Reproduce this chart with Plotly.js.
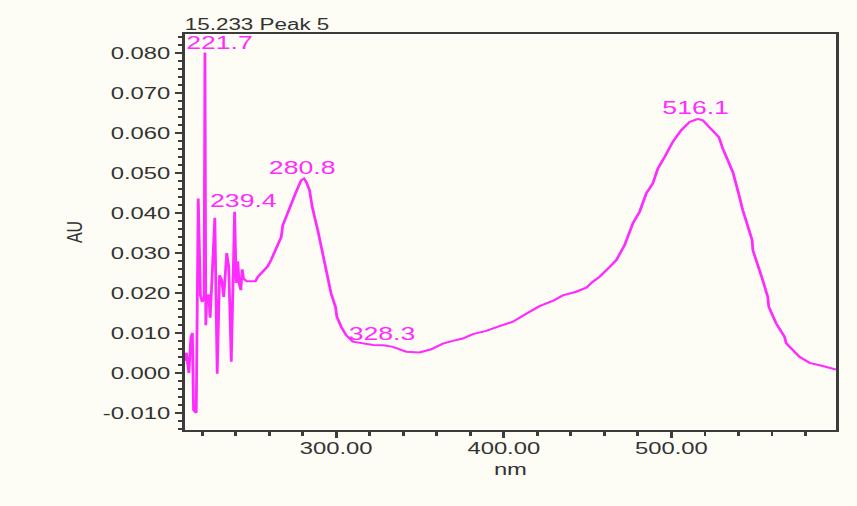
<!DOCTYPE html>
<html>
<head>
<meta charset="utf-8">
<script src="https://cdn.plot.ly/plotly-3.0.1.min.js"></script>
<style>
html,body{margin:0;padding:0;background:#fdfdf5;overflow:hidden;width:857px;height:506px}
/* the spectrum is laid out on a narrower canvas and widened horizontally */
#chart{width:612px;height:506px;transform:scaleX(1.40033);transform-origin:0 0}
</style>
</head>
<body>
<div id="chart"></div>
<script>
// UV-Vis spectrum of peak 5 (retention 15.233 min)
const wavelengthNm = [
  209.8, 210.6, 212.1, 213.3, 214.2, 214.9, 216.5, 217.7, 219.0, 220.0,
  221.2, 221.7, 222.2, 222.8, 224.0, 224.8, 227.6, 229.0, 230.4, 231.7,
  232.9, 234.7, 235.9, 237.4, 239.4, 240.3, 241.3, 242.1, 243.1, 243.9,
  244.7, 246.7, 251.8, 253.2, 259.2, 261.2, 267.2, 268.1, 276.1, 279.1,
  280.8, 282.1, 284.1, 285.7, 289.0, 291.6, 293.0, 296.0, 297.0, 299.6,
  300.4, 303.0, 306.0, 309.9, 317.9, 322.0, 328.3, 333.8, 341.8, 349.7,
  356.7, 363.6, 369.6, 375.5, 381.5, 389.5, 397.4, 405.4, 413.4, 421.3,
  429.2, 435.2, 443.2, 449.2, 453.1, 457.1, 463.1, 467.1, 472.0, 477.0,
  481.0, 485.0, 488.9, 491.9, 495.9, 500.8, 505.8, 510.8, 514.8, 516.1,
  518.7, 522.7, 528.3, 530.7, 536.6, 539.6, 542.6, 548.2, 548.6, 554.5,
  557.5, 558.1, 562.5, 567.5, 568.5, 576.4, 582.4, 590.3, 597.3, 598.2
];
const absorbanceAU = [
  0.0030, 0.0050, 0.0000, 0.0089, 0.0100, -0.0093, -0.0100, 0.0436, 0.0194, 0.0178,
  0.0185, 0.0802, 0.0119, 0.0194, 0.0194, 0.0138, 0.0388, -0.0002, 0.0244, 0.0232,
  0.0190, 0.0300, 0.0265, 0.0028, 0.0403, 0.0225, 0.0279, 0.0224, 0.0207, 0.0259,
  0.0236, 0.0229, 0.0229, 0.0240, 0.0267, 0.0283, 0.0340, 0.0369, 0.0453, 0.0482,
  0.0486, 0.0478, 0.0457, 0.0415, 0.0357, 0.0307, 0.0274, 0.0224, 0.0198, 0.0165,
  0.0140, 0.0115, 0.0094, 0.0078, 0.0072, 0.0070, 0.0069, 0.0065, 0.0053, 0.0051,
  0.0059, 0.0073, 0.0080, 0.0086, 0.0097, 0.0105, 0.0117, 0.0128, 0.0148, 0.0167,
  0.0180, 0.0194, 0.0203, 0.0213, 0.0228, 0.0240, 0.0265, 0.0282, 0.0319, 0.0374,
  0.0403, 0.0449, 0.0474, 0.0511, 0.0540, 0.0578, 0.0607, 0.0628, 0.0634, 0.0635,
  0.0632, 0.0615, 0.0590, 0.0561, 0.0503, 0.0457, 0.0407, 0.0332, 0.0307, 0.0232,
  0.0190, 0.0165, 0.0124, 0.0090, 0.0074, 0.0040, 0.0025, 0.0017, 0.0009, 0.0008
];

// labelled maxima / shoulders (nm)
const peakNm = [221.7, 239.4, 280.8, 328.3, 516.1];

const xTickVals = [300, 400, 500];
const xTickText = ['300.00', '400.00', '500.00'];
const yTickVals = [-0.01, 0, 0.01, 0.02, 0.03, 0.04, 0.05, 0.06, 0.07, 0.08];
const yTickText = ['-0.010', '0.000', '0.010', '0.020', '0.030', '0.040', '0.050', '0.060', '0.070', '0.080'];

const chartTitle = '15.233 Peak 5';
const xTitle = 'nm';
const yTitle = 'AU';

// nudges for the peak labels, in px
const labelShiftX = [11, 6, -1, -1, -2];
const labelShiftY = [-3, -1, -1, -1, -1];

const MAGENTA = '#ff2cff';
const INK = '#333333';
const FRAME = '#3c3c3c';
const BG = '#fdfdf5';
const FONT = 'Liberation Sans, Arial, sans-serif';

const annotations = peakNm.map((nm, i) => ({
  x: nm,
  y: absorbanceAU[wavelengthNm.indexOf(nm)],
  xref: 'x', yref: 'y',
  text: nm.toFixed(1),
  showarrow: false,
  xanchor: 'center', yanchor: 'bottom',
  xshift: labelShiftX[i],
  yshift: labelShiftY[i],
  font: {family: FONT, size: 19, color: MAGENTA}
}));

const trace = {
  x: wavelengthNm,
  y: absorbanceAU,
  type: 'scatter',
  mode: 'lines',
  line: {color: MAGENTA, width: 2},
  hoverinfo: 'skip'
};

const layout = {
  width: 612,
  height: 506,
  margin: {l: 132.3, r: 14.6, t: 33.5, b: 76},
  paper_bgcolor: BG,
  plot_bgcolor: BG,
  showlegend: false,
  font: {family: FONT, color: INK},
  title: {
    text: chartTitle,
    x: 0, xref: 'paper', xanchor: 'left',
    y: 1, yref: 'paper', yanchor: 'bottom',
    pad: {b: 4, l: 0},
    font: {family: FONT, size: 16, color: INK}
  },
  xaxis: {
    range: [209.7, 598.2],
    tickmode: 'array',
    tickvals: xTickVals,
    ticktext: xTickText,
    ticks: 'outside',
    ticklen: 6,
    tickwidth: 2,
    tickcolor: FRAME,
    ticklabelstandoff: -4,
    minor: {tickmode: 'linear', tick0: 0, dtick: 20, ticks: 'outside', ticklen: 4, tickwidth: 2, tickcolor: FRAME, showgrid: false},
    showline: true,
    linecolor: FRAME,
    linewidth: 2,
    mirror: true,
    showgrid: false,
    zeroline: false,
    tickfont: {family: FONT, size: 17, color: INK},
    title: {text: xTitle, font: {family: FONT, size: 17, color: INK}, standoff: 6}
  },
  yaxis: {
    range: [-0.0143, 0.0848],
    tickmode: 'array',
    tickvals: yTickVals,
    ticktext: yTickText,
    ticks: 'outside',
    ticklen: 5,
    tickwidth: 2,
    tickcolor: FRAME,
    minor: {tickmode: 'linear', tick0: 0, dtick: 0.002, ticks: 'outside', ticklen: 3, tickwidth: 2, tickcolor: FRAME, showgrid: false},
    showline: true,
    linecolor: FRAME,
    linewidth: 2,
    mirror: true,
    showgrid: false,
    zeroline: false,
    tickfont: {family: FONT, size: 17, color: INK},
    title: {text: yTitle, font: {family: FONT, size: 16, color: INK}, standoff: 10}
  },
  annotations: annotations
};

Plotly.newPlot('chart', [trace], layout, {staticPlot: true, displayModeBar: false});
</script>
</body>
</html>
